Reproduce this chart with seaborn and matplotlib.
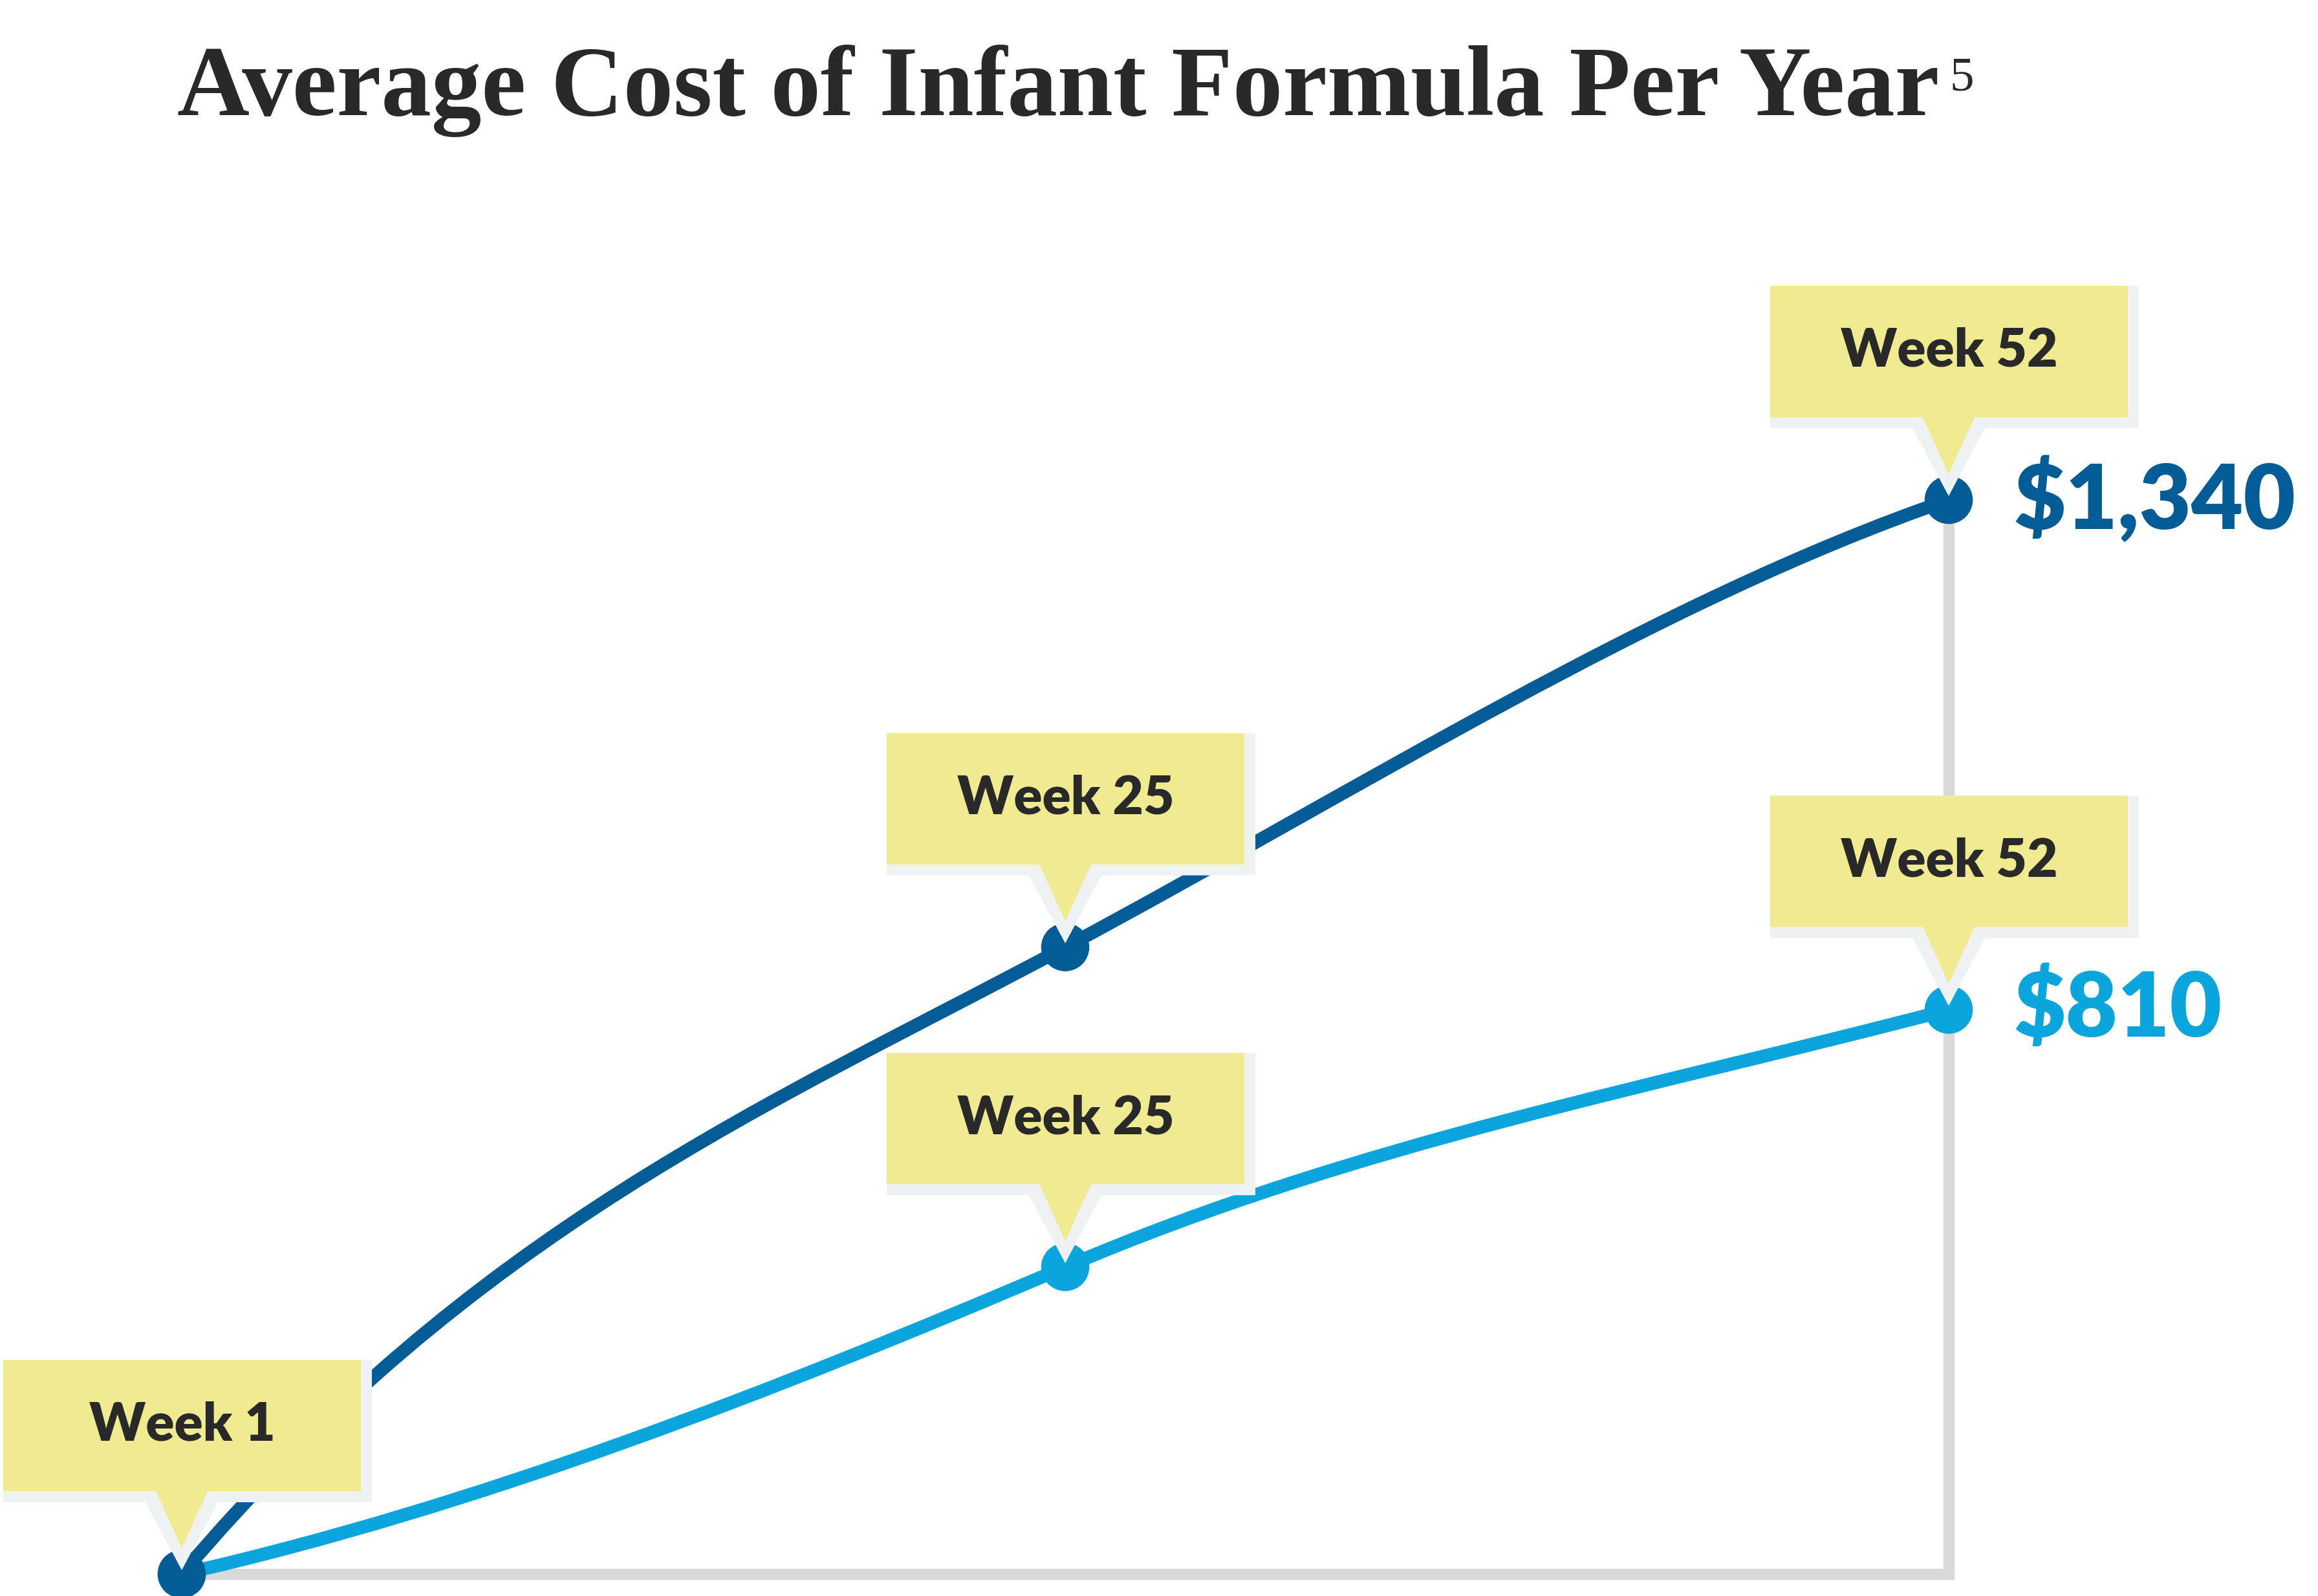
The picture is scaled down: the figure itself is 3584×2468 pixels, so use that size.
import numpy as np
import pandas as pd
import matplotlib
matplotlib.use("Agg")
import matplotlib.pyplot as plt
import seaborn as sns
from matplotlib.path import Path
from matplotlib.patches import PathPatch, Polygon
from matplotlib.transforms import IdentityTransform

# ---------------- data ----------------
week_labels = ["Week 1", "Week 25", "Week 52"]
cost_high = [0, 782, 1340]          # dark series, position on the cost scale
cost_low = [0, 383, 704]            # light series, position on the cost scale
slope_high = [1300, 590, 380]       # curve slope at each point (cost per step)
slope_low = [250, 470, 290]
end_labels = ["$1,340", "$810"]
title = "Average Cost of Infant Formula Per Year"
footnote = "5"

# ---------------- style ----------------
DARK = "#035c96"
LIGHT = "#0aa5dd"
GRID = "#d9d9d9"
YELLOW = "#f0eb91"
SHADOW = "#f0f1f3"
INK = "#292929"

W, H, DPI = 3584, 2468, 200
sns.set_style("white")
plt.rcParams["font.family"] = ["Lato", "DejaVu Sans"]

fig = plt.figure(figsize=(W / DPI, H / DPI), dpi=DPI)
fig.patch.set_facecolor("white")
ax = fig.add_axes([281 / W, 34 / H, (3013 - 281) / W, (2434 - 773) / H])

steps = list(range(len(week_labels)))
df = pd.DataFrame({
    "step": steps + steps,
    "cost": cost_low + cost_high,
    "series": ["low"] * len(steps) + ["high"] * len(steps),
})

ax.set_xlim(steps[0], steps[-1])
ax.set_ylim(0, max(cost_high))


def hermite_path(xs, ys, ms):
    verts = [(xs[0], ys[0])]
    codes = [Path.MOVETO]
    for i in range(len(xs) - 1):
        dx = xs[i + 1] - xs[i]
        verts += [(xs[i] + dx / 3, ys[i] + ms[i] * dx / 3),
                  (xs[i + 1] - dx / 3, ys[i + 1] - ms[i + 1] * dx / 3),
                  (xs[i + 1], ys[i + 1])]
        codes += [Path.CURVE4] * 3
    return Path(verts, codes)


for ys, ms, col in [(cost_low, slope_low, LIGHT), (cost_high, slope_high, DARK)]:
    ax.add_patch(PathPatch(hermite_path(steps, ys, ms), fill=False, edgecolor=col,
                           lw=7.4, capstyle="round", zorder=4, clip_on=False))

sns.scatterplot(data=df, x="step", y="cost", hue="series",
                palette={"low": LIGHT, "high": DARK}, s=720, linewidth=0,
                legend=False, zorder=5, ax=ax, clip_on=False)

for s in ["top", "left"]:
    ax.spines[s].set_visible(False)
for s in ["bottom", "right"]:
    ax.spines[s].set_color(GRID)
    ax.spines[s].set_linewidth(6.2)
    ax.spines[s].set_zorder(1)
ax.set_xticks([])
ax.set_yticks([])
ax.set_xlabel("")
ax.set_ylabel("")
ax.patch.set_alpha(0)

ident = IdentityTransform()


def callout(xv, yv, label):
    cx, cy = ax.transData.transform((xv, yv))
    L, R, B, T = -276, 277, 128, 331
    bh, tip = 40, 40
    sh = 17
    shadow = [(cx + L, cy + T), (cx + R + sh, cy + T), (cx + R + sh, cy + B - sh),
              (cx + 56, cy + B - sh), (cx, cy + 6), (cx - 56, cy + B - sh),
              (cx + L, cy + B - sh)]
    box = [(cx + L, cy + T), (cx + R, cy + T), (cx + R, cy + B), (cx + bh, cy + B),
           (cx, cy + tip), (cx - bh, cy + B), (cx + L, cy + B)]
    fig.add_artist(Polygon(shadow, closed=True, transform=ident, facecolor=SHADOW,
                           edgecolor="none", zorder=10))
    fig.add_artist(Polygon(box, closed=True, transform=ident, facecolor=YELLOW,
                           edgecolor="none", zorder=11))
    fig.text(cx + 1, cy + (B + T) / 2, label, transform=ident, ha="center",
             va="center", fontsize=29.5, fontweight="heavy", color=INK, zorder=12,
             family=["Lato", "DejaVu Sans"])


for ys in (cost_high, cost_low):
    for st, yv, lab in zip(steps, ys, week_labels):
        if st == 0 and ys is cost_low:
            continue
        callout(st, yv, lab)

for ys, lab, col in [(cost_high, end_labels[0], DARK), (cost_low, end_labels[1], LIGHT)]:
    cx, cy = ax.transData.transform((steps[-1], ys[-1]))
    fig.text(cx + 100, cy, lab, transform=ident, ha="left", va="center",
             fontsize=50, fontweight="heavy", color=col, zorder=12,
             family=["Lato", "DejaVu Sans"])

# title
t = fig.text(274 / W, 1 - 178 / H, title, ha="left", va="baseline", fontsize=58,
             fontweight="bold", color=INK, family=["Liberation Serif", "DejaVu Serif"])
fig.canvas.draw()
bb = t.get_window_extent()
target = 2999 - 274
t.set_fontsize(58 * target / bb.width)
fig.canvas.draw()
bb = t.get_window_extent()
fig.text(bb.x1 + 16, H - 140, footnote, transform=ident, ha="left", va="baseline",
         fontsize=27, color=INK, family=["Liberation Serif", "DejaVu Serif"])

fig.savefig("out.png", dpi=DPI, facecolor="white")
